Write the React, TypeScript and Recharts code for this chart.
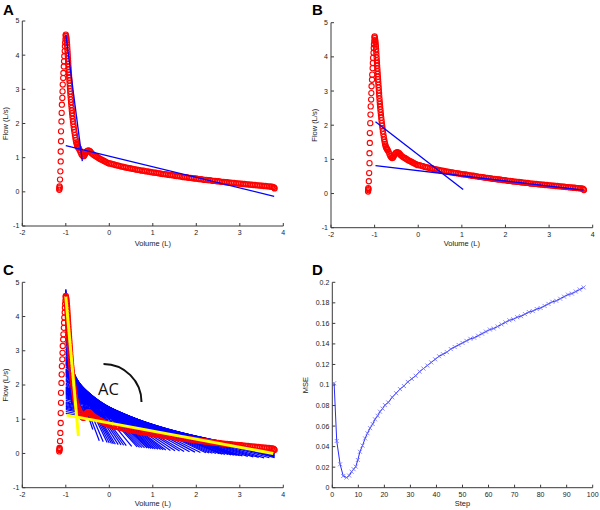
import React from 'react';
import { ComposedChart, LineChart, Line, Scatter, XAxis, YAxis } from 'recharts';

// ---- red flow-volume loop (volume L, flow L/s) ----
const loopVolume: number[] = [
  -1.15, -1.148, -1.145, -1.14, -1.133, -1.125, -1.117, -1.117, -1.11, -1.11, -1.1, -1.095, -1.09, -1.08, -1.075, -1.07,
  -1.06, -1.055, -1.045, -1.04, -1.035, -1.025, -1.02, -1.015, -1.008, -1.003,
  -1.0, -0.992, -0.986, -0.98, -0.975, -0.97, -0.966, -0.962, -0.958, -0.954, -0.95, -0.946, -0.942, -0.938, -0.934,
  -0.929, -0.925, -0.921, -0.916, -0.912, -0.907, -0.903, -0.898, -0.894, -0.889, -0.884, -0.879, -0.873, -0.867,
  -0.861, -0.855, -0.848, -0.841, -0.834, -0.826, -0.818, -0.81, -0.8, -0.79, -0.78, -0.77, -0.76, -0.75, -0.74, -0.73,
  -0.72, -0.71,
  -0.7, -0.68, -0.66, -0.64, -0.62, -0.6, -0.58, -0.56, -0.54, -0.52, -0.5, -0.48, -0.46, -0.44, -0.42, -0.4, -0.37,
  -0.34, -0.31, -0.28, -0.25, -0.22, -0.19, -0.16, -0.13, -0.1, -0.07, -0.04, -0.01,
  0.03, 0.07, 0.11, 0.15, 0.19, 0.23, 0.27, 0.31, 0.35, 0.39, 0.43, 0.47, 0.51, 0.55, 0.59, 0.63, 0.67, 0.71, 0.75,
  0.79, 0.83, 0.87, 0.91, 0.95, 0.99, 1.03, 1.07, 1.11, 1.15, 1.19, 1.23, 1.27, 1.31, 1.35, 1.39, 1.43, 1.47, 1.51,
  1.55, 1.59, 1.63, 1.67, 1.71, 1.75, 1.79, 1.83, 1.87, 1.91, 1.95, 1.99, 2.03, 2.07, 2.11, 2.15, 2.19, 2.23, 2.27,
  2.31, 2.35, 2.39, 2.43, 2.47, 2.51, 2.55, 2.59, 2.63, 2.67, 2.71, 2.75, 2.79, 2.83, 2.87, 2.91, 2.95, 2.99, 3.03,
  3.07, 3.11, 3.15, 3.19, 3.23, 3.27, 3.31, 3.35, 3.39, 3.43, 3.47, 3.51, 3.55, 3.59, 3.63, 3.67, 3.71, 3.74, 3.77,
  3.79, 3.8,
];
const loopFlow: number[] = [
  0.06, 0.1, 0.16, 0.13, 0.36, 0.6, 0.89, 1.18, 1.48, 1.77, 2.06, 2.31, 2.55, 2.75, 2.94, 3.14,
  3.33, 3.48, 3.67, 3.82, 3.97, 4.12, 4.26, 4.37, 4.47, 4.57,
  4.6, 4.55, 4.5, 4.44, 4.37, 4.3, 4.22, 4.14, 4.06, 3.98, 3.9, 3.82, 3.74, 3.66, 3.58,
  3.5, 3.42, 3.34, 3.26, 3.18, 3.1, 3.02, 2.94, 2.86, 2.78, 2.7, 2.62, 2.54, 2.46,
  2.38, 2.3, 2.22, 2.14, 2.06, 1.98, 1.9, 1.82, 1.74, 1.66, 1.58, 1.51, 1.45, 1.4, 1.36, 1.33,
  1.31, 1.29,
  1.27, 1.22, 1.16, 1.1, 1.06, 1.04, 1.05, 1.09, 1.14, 1.18, 1.2, 1.21, 1.2, 1.18, 1.15, 1.12, 1.09,
  1.06, 1.04, 1.02, 0.99, 0.97, 0.95, 0.93, 0.91, 0.89, 0.87, 0.85, 0.83,
  0.83, 0.81, 0.8, 0.78, 0.77, 0.76, 0.74, 0.74, 0.72, 0.71, 0.7, 0.69, 0.68, 0.67, 0.66, 0.65, 0.64, 0.63, 0.62,
  0.62, 0.6, 0.6, 0.59, 0.58, 0.57, 0.56, 0.56, 0.55, 0.54, 0.53, 0.52, 0.52, 0.51, 0.5, 0.49, 0.49, 0.48, 0.47,
  0.46, 0.46, 0.45, 0.44, 0.43, 0.43, 0.42, 0.41, 0.41, 0.4, 0.39, 0.39, 0.38, 0.37, 0.37, 0.36, 0.35, 0.35, 0.34,
  0.34, 0.33, 0.32, 0.32, 0.31, 0.31, 0.3, 0.29, 0.29, 0.28, 0.28, 0.27, 0.27, 0.26, 0.26, 0.25, 0.25, 0.24, 0.24,
  0.23, 0.23, 0.22, 0.22, 0.21, 0.21, 0.2, 0.2, 0.19, 0.19, 0.18, 0.18, 0.17, 0.17, 0.16, 0.16, 0.15, 0.15, 0.14,
  0.12, 0.1,
];

const volumeTicks = [-2, -1, 0, 1, 2, 3, 4];
const flowTicks = [-1, 0, 1, 2, 3, 4, 5];

// fitted lines [x1, y1, x2, y2]
const fitA: number[][] = [[-1.0, 4.6, -0.62, 0.9], [-1.0, 1.35, 3.79, -0.13]];
const fitB: number[][] = [[-0.98, 2.1, 1.03, 0.12], [-0.98, 0.815, 3.79, 0.1]];
const fitC: number[][] = [[-1.0, 4.58, -0.71, 0.51], [-0.98, 1.12, 3.77, 0.0]];

// panel C candidate fits: each starts at volume -1
const fanStartFlow: number[] = [
  4.8, 4.775, 4.75, 4.7, 4.65, 4.6, 4.545, 4.49, 4.44, 4.37, 4.3, 4.23, 4.16, 4.05, 3.945, 3.84, 3.73, 3.61, 3.49,
  3.37, 3.25, 3.12, 3.05, 2.98, 2.84, 2.77, 2.7, 2.64, 2.59, 2.48, 2.44,
  2.4, 2.37, 2.33, 2.29, 2.25, 2.17, 2.1, 2.02, 1.95, 1.91, 1.87, 1.83, 1.79, 1.755, 1.72, 1.66, 1.6, 1.555, 1.51,
  1.485, 1.46, 1.43, 1.4, 1.375, 1.35, 1.315, 1.28, 1.225, 1.17,
  2.91, 2.805, 2.735, 2.67, 2.615, 2.535, 2.46, 2.42, 2.385, 2.35, 2.31, 2.27, 2.21, 2.135, 2.06, 1.985, 1.93, 1.89,
  1.85, 1.81, 1.772, 1.737, 1.69, 1.63,
];
const fanEndVolume: number[] = [
  -0.866, -0.86, -0.853, -0.847, -0.84, -0.835, -0.83, -0.825, -0.819, -0.812, -0.805, -0.798, -0.792, -0.779, -0.765,
  -0.751, -0.737, -0.714, -0.69, -0.665, -0.64, -0.5, -0.38, -0.23, -0.05, 0.05, 0.14, 0.27, 0.39, 0.64, 0.75,
  0.87, 0.96, 1.06, 1.18, 1.3, 1.51, 1.72, 1.97, 2.22, 2.37, 2.53, 2.66, 2.8, 2.93, 3.06, 3.31, 3.56, 3.68, 3.8,
  3.8, 3.8, 3.8, 3.8, 3.8, 3.8, 3.8, 3.8, 3.8, 3.8,
  -0.14, 0.0, 0.095, 0.205, 0.33, 0.515, 0.695, 0.81, 0.915, 1.01, 1.12, 1.24, 1.405, 1.615, 1.845, 2.095, 2.295,
  2.45, 2.595, 2.73, 2.865, 2.995, 3.185, 3.435,
];
const fanEndFlow: number[] = [
  1.45, 1.45, 1.45, 1.45, 1.45, 1.45, 1.45, 1.45, 1.45, 1.45, 1.45, 1.45, 1.45, 1.45, 1.45, 1.45, 1.45, 1.45, 1.45,
  1.45, 1.45, 1.0, 0.7, 0.37, 0.32, 0.29, 0.27, 0.25, 0.23, 0.19, 0.17,
  0.16, 0.145, 0.13, 0.115, 0.1, 0.08, 0.06, 0.04, 0.02, 0.005, -0.01, -0.025, -0.04, -0.055, -0.07, -0.1, -0.13,
  -0.125, -0.12, -0.1, -0.08, -0.06, -0.04, -0.02, 0.0, 0.015, 0.03, 0.04, 0.05,
  0.345, 0.305, 0.28, 0.26, 0.24, 0.21, 0.18, 0.165, 0.152, 0.137, 0.122, 0.107, 0.09, 0.07, 0.05, 0.03, 0.012,
  -0.002, -0.018, -0.032, -0.048, -0.062, -0.085, -0.115,
];

// panel D: MSE per step
const steps: number[] = [
  0.7, 1.7, 3.0, 4.2, 5.5, 6.5, 7.4, 8.2, 9.0, 9.8, 10.6, 11.6, 12.6, 13.5, 14.5, 15.5, 16.4, 17.4, 18.3, 19.3, 20.2,
  21.5, 23, 24.5, 26, 27.5, 29, 30.5, 32, 33.5, 35, 36.5, 38, 39.5, 41, 42.5, 44, 45.5, 47, 48.5, 50, 51.5, 53, 54.5,
  56, 57.5, 59, 60.5, 62, 63.5, 65, 66.5, 68, 69.5, 71, 72.5, 74, 75.5, 77, 78.5, 80, 81.5, 83, 84.5, 86, 87.5, 89,
  90.5, 92, 93.5, 95, 96.5,
];
const mse: number[] = [
  0.1017, 0.0455, 0.0228, 0.0114, 0.0099, 0.0118, 0.0156, 0.018, 0.0205, 0.027, 0.035, 0.041, 0.048, 0.053, 0.058,
  0.062, 0.0666, 0.07, 0.074, 0.077, 0.0805,
  0.083, 0.088, 0.092, 0.096, 0.099, 0.103, 0.106, 0.109, 0.113, 0.116, 0.119, 0.122, 0.125, 0.128, 0.13, 0.132,
  0.135, 0.137, 0.139, 0.141, 0.143, 0.145, 0.146, 0.148, 0.15, 0.152, 0.154, 0.155, 0.157, 0.159, 0.161, 0.163,
  0.164, 0.166, 0.167, 0.169, 0.171, 0.172, 0.174, 0.175, 0.177, 0.179, 0.181, 0.182, 0.184, 0.186, 0.188, 0.189,
  0.191, 0.193, 0.195,
];
const stepTicks = [0, 10, 20, 30, 40, 50, 60, 70, 80, 90, 100];
const mseTicks = [0, 0.02, 0.04, 0.06, 0.08, 0.1, 0.12, 0.14, 0.16, 0.18, 0.2];

const loopPoints = loopVolume.map((v, i) => ({ x: v, y: loopFlow[i] }));
const fanSegs: number[][] = fanStartFlow.map((s, i) => [-1, s, fanEndVolume[i], fanEndFlow[i]]);
const mseData = steps.map((s, i) => ({ x: s, y: mse[i] }));

const FONT = 'Liberation Sans, Arial, sans-serif';
const AX = '#3a3a3a';
const tickStyle = { fontSize: 7, fill: '#222', fontFamily: FONT };
const labelStyle = { fontSize: 7.5, fill: '#222', fontFamily: FONT };

const circleShape = (p: any) => (
  <circle cx={p.cx} cy={p.cy} r={2.6} fill="none" stroke="#ff0000" strokeWidth={1.1} />
);

const segLines = (segs: number[][], color: string, w: number, prefix: string, z?: number) =>
  segs.map((s, i) => (
    <Line
      key={prefix + i}
      data={[{ x: s[0], y: s[1] }, { x: s[2], y: s[3] }]}
      dataKey="y"
      type="linear"
      stroke={color}
      strokeWidth={w}
      dot={false}
      activeDot={false}
      isAnimationActive={false}
      legendType="none"
      {...(z ? { zIndex: z } : {})}
    />
  ));

type PanelProps = {
  left: number; top: number; height: number;
  yAxisW: number; mTop: number; mRight: number; xAxisH: number;
  fits: number[][]; fitColor: string; fitW: number; fan?: boolean;
};

function FlowPanel(p: PanelProps) {
  return (
    <div style={{ position: 'absolute', left: p.left, top: p.top }}>
      <ComposedChart width={300} height={p.height} margin={{ top: p.mTop, right: p.mRight, bottom: 0, left: 0 }}>
        <XAxis
          type="number" dataKey="x" domain={[-2, 4]} ticks={volumeTicks} interval={0} allowDataOverflow
          height={p.xAxisH} axisLine={{ stroke: AX }} tickLine={{ stroke: AX }} tickSize={-3} tickMargin={7}
          tick={tickStyle}
          label={{ value: 'Volume (L)', position: 'insideBottom', offset: 4, ...labelStyle }}
        />
        <YAxis
          type="number" dataKey="y" domain={[-1, 5]} ticks={flowTicks} interval={0} allowDataOverflow
          width={p.yAxisW} axisLine={{ stroke: AX }} tickLine={{ stroke: AX }} tickSize={-3} tickMargin={6}
          tick={tickStyle}
          label={{ value: 'Flow (L/s)', angle: -90, position: 'insideLeft', offset: p.yAxisW - 17, style: { textAnchor: 'middle' }, ...labelStyle }}
        />
        {p.fan ? segLines(fanSegs, '#0000ff', 1.2, 'fan') : null}
        <Scatter data={loopPoints} shape={circleShape} isAnimationActive={false} legendType="none" />
        {segLines(p.fits, p.fitColor, p.fitW, 'fit', 700)}
      </ComposedChart>
    </div>
  );
}

const xMarker = (p: any) => {
  const { cx, cy, index } = p;
  if (cx == null || cy == null) return <g key={'m' + index} />;
  return (
    <path
      key={'m' + index}
      d={`M${cx - 2},${cy - 2}L${cx + 2},${cy + 2}M${cx - 2},${cy + 2}L${cx + 2},${cy - 2}`}
      stroke="#6a6aff"
      strokeWidth={0.8}
      fill="none"
    />
  );
};

function MsePanel() {
  return (
    <div style={{ position: 'absolute', left: 300, top: 250 }}>
      <LineChart width={300} height={260} margin={{ top: 32.3, right: 7.3, bottom: 0, left: 0 }}>
        <XAxis
          type="number" dataKey="x" domain={[0, 100]} ticks={stepTicks} interval={0} allowDataOverflow
          height={22.3} axisLine={{ stroke: AX }} tickLine={{ stroke: AX }} tickSize={-3} tickMargin={7}
          tick={tickStyle}
          label={{ value: 'Step', position: 'insideBottom', offset: 4, ...labelStyle }}
        />
        <YAxis
          type="number" dataKey="y" domain={[0, 0.2]} ticks={mseTicks} interval={0} allowDataOverflow
          width={32.3} axisLine={{ stroke: AX }} tickLine={{ stroke: AX }} tickSize={-3} tickMargin={6}
          tick={tickStyle} tickFormatter={(v: number) => String(Number(v.toFixed(2)))}
          label={{ value: 'MSE', angle: -90, position: 'insideLeft', offset: 5.5, style: { textAnchor: 'middle' }, ...labelStyle }}
        />
        <Line
          data={mseData} dataKey="y" type="linear" stroke="#2a2aff" strokeWidth={1}
          dot={xMarker} activeDot={false} isAnimationActive={false} legendType="none"
        />
      </LineChart>
    </div>
  );
}

export default function App() {
  return (
    <div style={{ position: 'absolute', left: 0, top: 0, width: 600, height: 510, background: '#fff', overflow: 'hidden' }}>
      <FlowPanel left={0} top={0} height={250} yAxisW={22.3} mTop={21} mRight={16.7} xAxisH={24}
        fits={fitA} fitColor="#0000ff" fitW={1.3} />
      <FlowPanel left={300} top={0} height={250} yAxisW={31} mTop={22.7} mRight={7.3} xAxisH={22.3}
        fits={fitB} fitColor="#0000ff" fitW={1.3} />
      <FlowPanel left={0} top={250} height={260} yAxisW={22.3} mTop={32.3} mRight={16.7} xAxisH={22.3}
        fits={fitC} fitColor="#ffff00" fitW={3} fan />
      <MsePanel />
      <svg width={600} height={510} style={{ position: 'absolute', left: 0, top: 0, pointerEvents: 'none' }}>
        <g fontFamily={FONT} fontWeight="bold" fontSize={15} fill="#000">
          <text x={3} y={15}>A</text>
          <text x={312} y={15}>B</text>
          <text x={3} y={275}>C</text>
          <text x={312} y={275}>D</text>
        </g>
        <text x={98} y={395} fontFamily="Open Sans, Noto Sans, sans-serif" fontSize={16.5} fill="#111">AC</text>
        <path d="M103.5,364 A38,38 0 0 1 141.5,402" fill="none" stroke="#111" strokeWidth={2} />
      </svg>
    </div>
  );
}
